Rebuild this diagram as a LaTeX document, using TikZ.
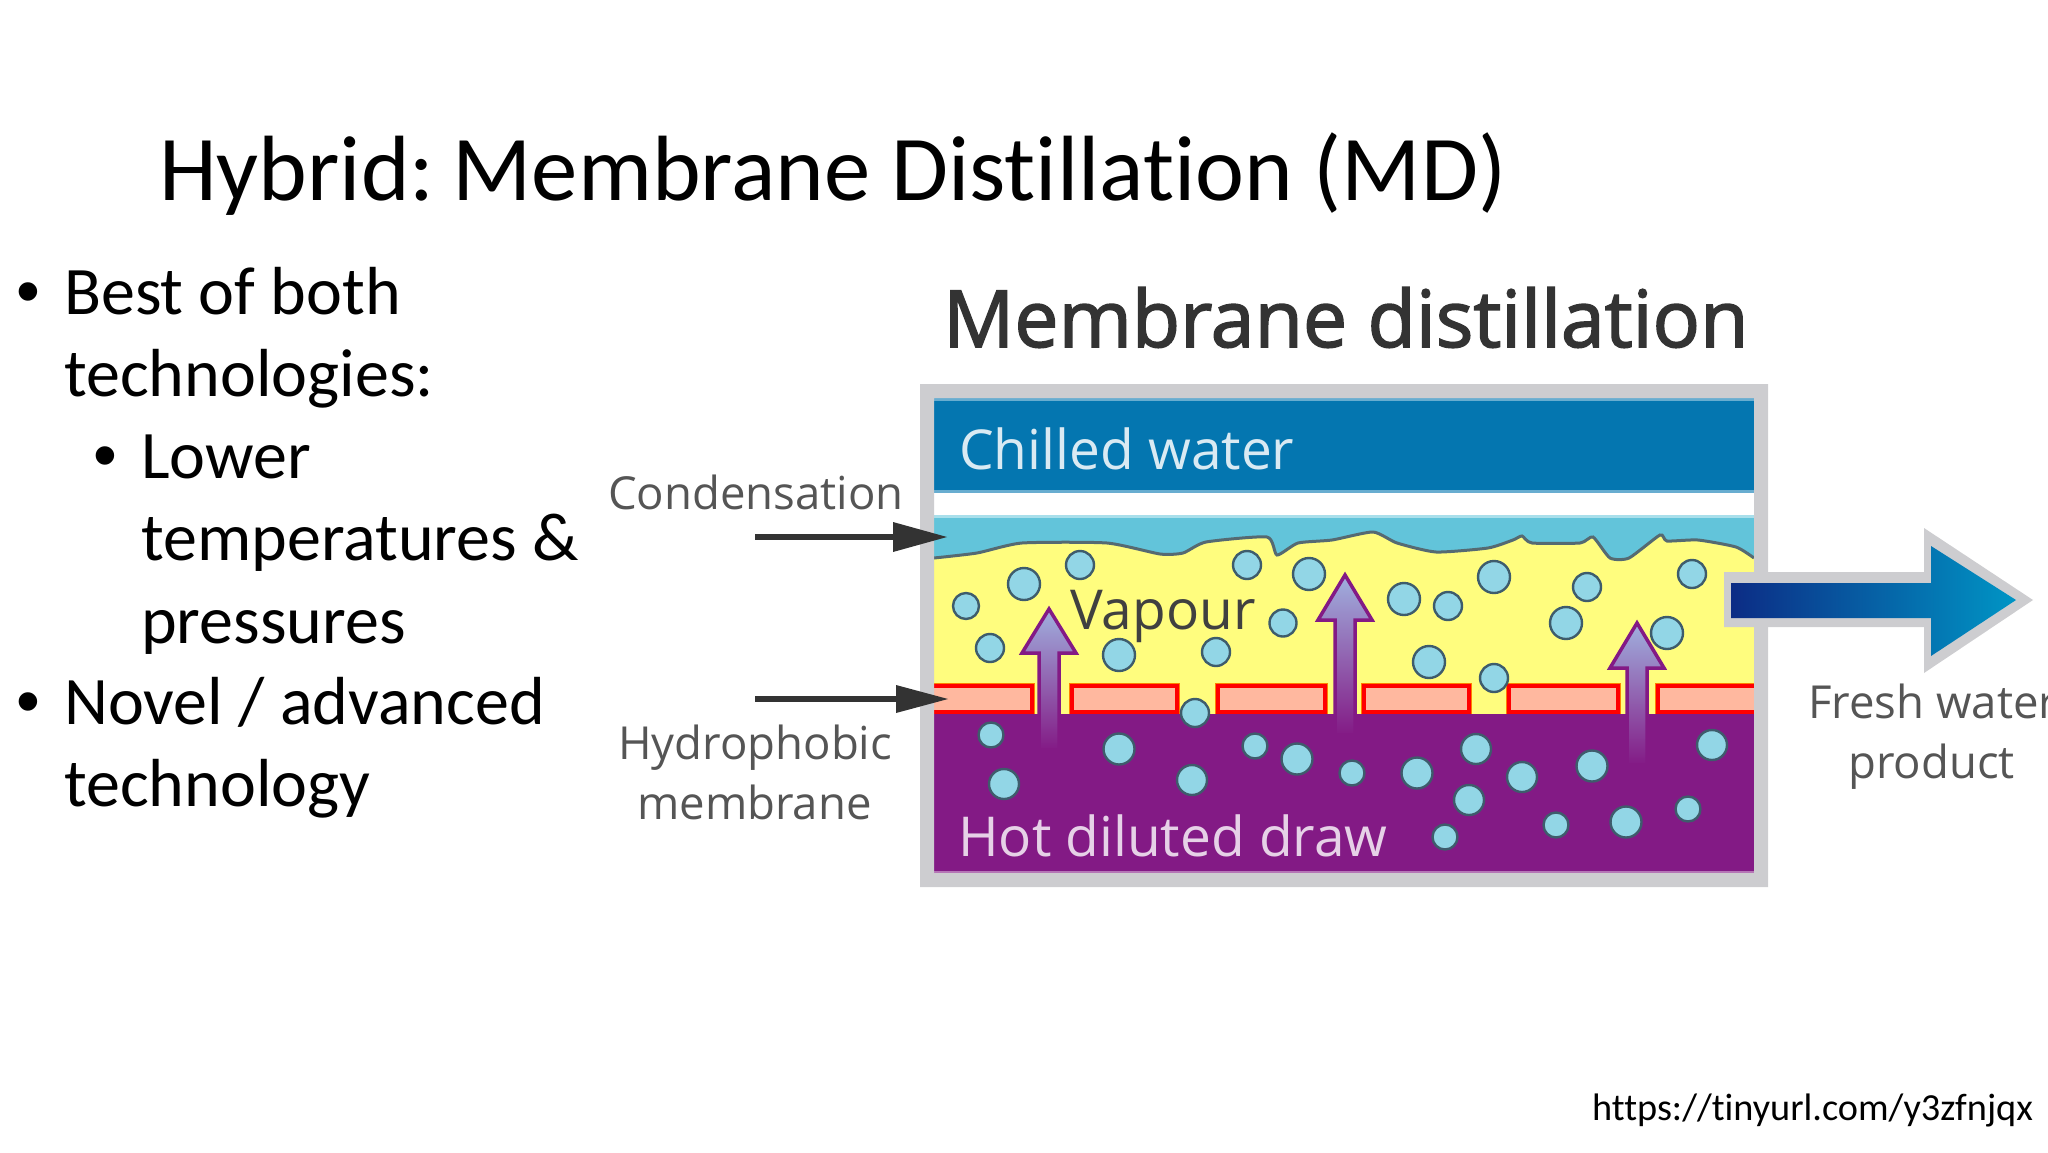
\documentclass[tikz,border=0pt]{standalone}
\usepackage{fontspec}
\setmainfont[RawFeature={-liga;-clig}]{Carlito}
\newfontfamily\figfont{Open Sans}
\newfontfamily\figsemi[FakeBold=2]{Open Sans}
\newfontfamily\bulletfont{Liberation Sans}
\definecolor{framegray}{HTML}{CDCDD0}
\definecolor{chilled}{HTML}{0476B0}
\definecolor{condense}{HTML}{62C4DA}
\definecolor{vapouryel}{HTML}{FFFD7E}
\definecolor{drawpurple}{HTML}{831A85}
\definecolor{bubble}{HTML}{92D6E6}
\definecolor{bubbleedge}{HTML}{3E5C6C}
\definecolor{memfill}{HTML}{FFB89F}
\definecolor{arrowtop}{HTML}{A0B0DE}
\definecolor{labelgray}{HTML}{555555}
\definecolor{pipeleft}{HTML}{0C2C85}
\definecolor{piperight}{HTML}{0095C5}
\definecolor{interface}{HTML}{556A72}
\tikzset{
  x=1pt,y=-1pt,
  slidetext/.style={inner sep=0pt,anchor=base west,font=\fontsize{68}{68}\selectfont,text=black},
  slidebullet/.style={inner sep=0pt,anchor=base west,font=\bulletfont\fontsize{68}{68}\selectfont,text=black},
  figlabel/.style={inner sep=0pt,anchor=base west,font=\figfont\fontsize{45.5}{45.5}\selectfont,text=labelgray},
  inlabel/.style={figlabel,font=\figfont\fontsize{55}{55}\selectfont},
  bubbleshape/.style={fill=bubble,draw=bubbleedge,line width=2.4pt},
  memshape/.style={fill=memfill,draw=red,line width=4.5pt,preaction={draw=orange,line width=6.5pt}},
  vapourarrow/.style={draw=drawpurple,line width=3.5pt,top color=arrowtop,bottom color=drawpurple,line join=miter},
  darkarrow/.style={draw=black!80,line width=5.5pt},
  darkhead/.style={fill=black!80},
}
\begin{document}
\begin{tikzpicture}
\useasboundingbox (0,0) rectangle (2048,1152);
\clip (0,0) rectangle (2048,1152);
% layers
\fill[white] (920,384) rectangle (1768,887);
\fill[chilled] (934,398) rectangle (1754,492);
\fill[chilled!60!white] (934,398) rectangle (1754,400.5);
\fill[chilled!60!white] (934,490) rectangle (1754,492.5);
\fill[condense] (934,515) rectangle (1754,570);
\fill[condense!55!white] (934,515) rectangle (1754,518);
\fill[vapouryel] plot[smooth,tension=.35] coordinates {(934,558)(977,553)(1022,543)(1107,543)(1160,554)(1183,553)(1206,542)(1267,537)(1277,555)(1298,543)(1332,540)(1373,532)(1397,543)(1436,552)(1488,548)(1513,540)(1522,536)(1532,543)(1580,543)(1593,537)(1610,558)(1629,558)(1660,535)(1667,541)(1698,540)(1736,547)(1754,558)} -- (1754,714) -- (934,714) -- cycle;
\draw[interface,line width=3pt] plot[smooth,tension=.35] coordinates {(934,558)(977,553)(1022,543)(1107,543)(1160,554)(1183,553)(1206,542)(1267,537)(1277,555)(1298,543)(1332,540)(1373,532)(1397,543)(1436,552)(1488,548)(1513,540)(1522,536)(1532,543)(1580,543)(1593,537)(1610,558)(1629,558)(1660,535)(1667,541)(1698,540)(1736,547)(1754,558)};
% membrane
\foreach \a/\b in {925/1032,1072/1177,1218/1325,1364/1469,1509/1618,1658/1765}
  \draw[memshape] (\a,686) rectangle (\b,712);
\fill[drawpurple] (934,714) rectangle (1754,873);
\fill[drawpurple!60!white] (934,870.5) rectangle (1754,873);
% frame
\fill[framegray,even odd rule] (920,384) rectangle (1768,887) (934,398) rectangle (1754,873);
% vapour arrows
\foreach \c/\t/\h/\e in {1049/609/653/750,1345/575/620/735,1637/623/668/765}
  \shade[vapourarrow] (\c,\t) -- (\c+27,\h) -- (\c+10,\h) -- (\c+10,\e) -- (\c-10,\e) -- (\c-10,\h) -- (\c-27,\h) -- cycle;
% bubbles
\foreach \x/\y/\r in {966/606/13,1024/584/16,1080/565/14,990/648/14,1119/655/16,1216/652/14,1247/565/14,1309/574/16,1283/623/13.5,1404/599/16,1448/606/14,1429/662/16,1494/577/16,1587/587/14,1692/574/14,1566/623/16,1667/633/16,1494/678/14,1195/713/14,
  991/735/12.5,1004/784/15,1119/749/15.5,1192/780/15,1255/746/12.5,1297/759/15.5,1352/773/12.5,1417/773/15.5,1476/749/15,1469/800/15,1445/837/12.5,1522/777/15,1592/766/15.5,1712/745/15,1556/825/12.5,1626/822/15.5,1688/809/12.5}
  \draw[bubbleshape] (\x,\y) circle[radius=\r];
% product arrow
\fill[framegray] (1724,572) -- (1924,572) -- (1924,528) -- (2033,600) -- (1924,673) -- (1924,627) -- (1724,627) -- cycle;
\shade[left color=pipeleft,right color=piperight] (1731,583) -- (1931,583) -- (1931,546) -- (2016,600) -- (1931,656) -- (1931,618) -- (1731,618) -- cycle;
% pointers
\coordinate (condA) at (755,537);
\coordinate (condB) at (893,537);
\coordinate (memA) at (755,699);
\coordinate (memB) at (896,699);
\draw[darkarrow] (condA) -- (condB);
\draw[darkarrow] (memA) -- (memB);
\fill[darkhead] (893,522) -- (947,537) -- (893,552) -- cycle;
\fill[darkhead] (896,685) -- (948,699) -- (896,713) -- cycle;
% figure labels
\node[figlabel,font=\figsemi\fontsize{78.8}{78.8}\selectfont,text=black!80] (figtitle) at (943,347) {Membrane distillation};
\node[inlabel,text=white!85!chilled] (chilledlab) at (959,469) {Chilled water};
\node[inlabel,text=black!75] (vapourlab) at (1070,629) {Vapour};
\node[inlabel,text=white!80!drawpurple] (hotlab) at (958,856) {Hot diluted draw};
\node[figlabel] (condlab) at (608,509) {Condensation};
\node[figlabel] (hydlab) at (618,759) {Hydrophobic};
\node[figlabel] (memlab) at (637,819) {membrane};
\node[figlabel] (freshlab) at (1808,718) {Fresh water};
\node[figlabel] (prodlab) at (1848,778) {product};
% slide text
\node[slidetext,font=\fontsize{92.7}{92.7}\selectfont] (title) at (159,200) {Hybrid:\kern-10pt{} Membrane Distillation (MD)};
\node[slidebullet] (b1) at (16,314) {•};
\node[slidetext] (t1) at (64,314) {Best of both};
\node[slidetext] (t2) at (64,396.5) {technologies:};
\node[slidebullet] (b2) at (93,478) {•};
\node[slidetext] (t3) at (141,478.5) {Lower};
\node[slidetext] (t4) at (141,560.5) {temperatures \&};
\node[slidetext] (t5) at (141,643) {pressures};
\node[slidebullet] (b3) at (16,724) {•};
\node[slidetext] (t6) at (64,724) {Novel / advanced};
\node[slidetext] (t7) at (64,806) {technology};
\node[slidetext,font=\fontsize{38.3}{38.3}\selectfont] (url) at (1592,1120) {https://tinyurl.com/y3zfnjqx};
\end{tikzpicture}
\end{document}
